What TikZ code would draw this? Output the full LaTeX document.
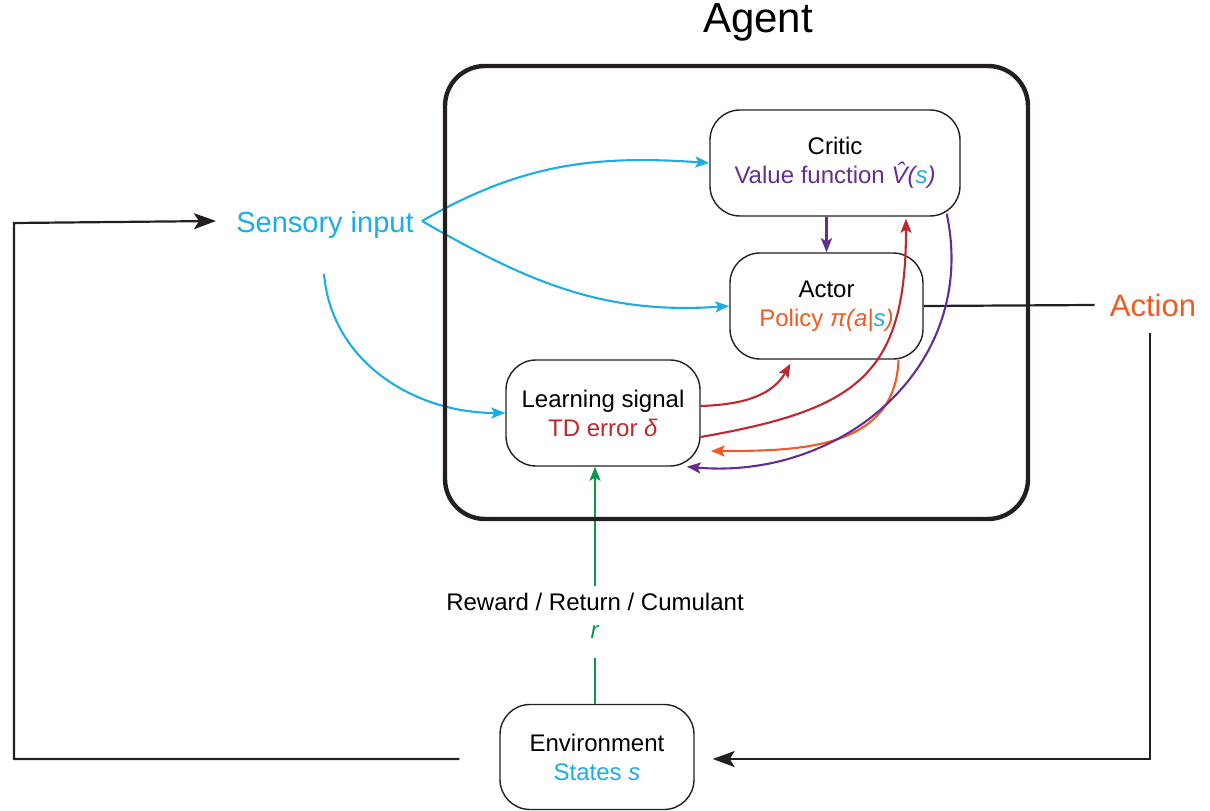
\documentclass[tikz,border=0pt]{standalone}
\usepackage{fontspec}
\setmainfont{Liberation Sans}
\usetikzlibrary{arrows.meta}
\definecolor{inkblack}{HTML}{231F20}
\definecolor{sensblue}{HTML}{1CADE4}
\definecolor{valpurple}{HTML}{662D91}
\definecolor{tdred}{HTML}{C1272D}
\definecolor{polorange}{HTML}{F15A24}
\definecolor{rewgreen}{HTML}{0A9A48}
\begin{document}
\begin{tikzpicture}[x=0.5pt,y=0.5pt,>={Stealth[length=7pt,width=5.5pt,inset=1.5pt]},
  box/.style={draw=inkblack,line width=0.7pt,rounded corners=15pt,minimum height=53pt,align=center,font=\fontsize{12}{14.5}\selectfont},
  flow/.style={line width=1.05pt,->},
  bigtip/.style={draw=inkblack,line width=1.1pt,-{Stealth[length=11pt,width=8pt,inset=2.5pt]}}]
\useasboundingbox (0,0) rectangle (1210,810);
\node[font=\fontsize{21}{25}\selectfont] (agentlabel) at (758,788) {Agent};
\node[box,minimum width=125pt] (critic) at (835,647) {Critic\\\textcolor{valpurple}{Value function \textit{\^{V}(\textcolor{sensblue}{s})}}};
\node[box,minimum width=96.5pt] (actor) at (826.5,504) {Actor\\\textcolor{polorange}{Policy \textit{π(a|\textcolor{sensblue}{s})}}};
\node[box,minimum width=97pt] (learn) at (603,397) {Learning signal\\\textcolor{tdred}{TD error \textit{δ}}};
\node[box,minimum width=97pt,minimum height=52.5pt] (env) at (597,53) {Environment\\\textcolor{sensblue}{States \textit{s}}};
\node[inner sep=0,text=sensblue,font=\fontsize{14.5}{17}\selectfont] (sensory) at (325,585) {Sensory input};
\node[inner sep=0,text=polorange,font=\fontsize{15.5}{18}\selectfont] (action) at (1153,505) {Action};
\node[font=\fontsize{12}{14.5}\selectfont] (reward) at (595,208) {Reward / Return / Cumulant};
\node[text=rewgreen,font=\fontsize{12}{14.5}\selectfont] (rsym) at (595,178) {\textit{r}};
\coordinate (fork) at (422,589);
\coordinate (sensdrop) at (324,536);
\coordinate (loopcorner) at (14,587);
\coordinate (actdrop) at (1150,477);

\draw[bigtip] ([xshift=-20pt,yshift=-1pt]env.west) -| (loopcorner) -- ([xshift=-10pt,yshift=2pt]sensory.west);
\draw[inkblack,line width=1.1pt] (actor.east) -- ([xshift=-7.5pt]action.west);
\draw[bigtip] (actdrop) |- ([xshift=9pt,yshift=-1pt]env.east);
\draw[flow,sensblue] (fork) to[out=30,in=176] (critic.west);
\draw[flow,sensblue] (fork) to[out=-30,in=184] (actor.west);
\draw[flow,sensblue] (sensdrop) to[out=-85,in=180] (learn.west);
\draw[flow,valpurple] (critic.south -| actor.north) -- (actor.north);
\draw[flow,tdred] ([yshift=3.5pt]learn.east) to[out=2,in=240] ([xshift=-18pt,yshift=-2pt]actor.south);
\draw[flow,tdred] ([yshift=-12pt]learn.east) to[out=10,in=-90,looseness=1.35] ([xshift=35.5pt,yshift=-1pt]critic.south);
\draw[flow,polorange] ([xshift=36pt]actor.south) to[out=-92,in=0,looseness=1.1] ([xshift=5pt,yshift=-19pt]learn.east);
\draw[flow,valpurple] ([xshift=-7pt,yshift=1.5pt]critic.south east) to[out=-78,in=-5,looseness=1.1] ([xshift=-7pt]learn.south east);
\draw[rewgreen,line width=1pt] (env.north -| reward.north) -- ([yshift=-6pt]rsym.south);
\draw[flow,rewgreen] (reward.north) -- (reward.north |- learn.south);

\draw[inkblack,line width=2.2pt,rounded corners=20pt] (445,291) rectangle (1028,744);
\end{tikzpicture}
\end{document}
